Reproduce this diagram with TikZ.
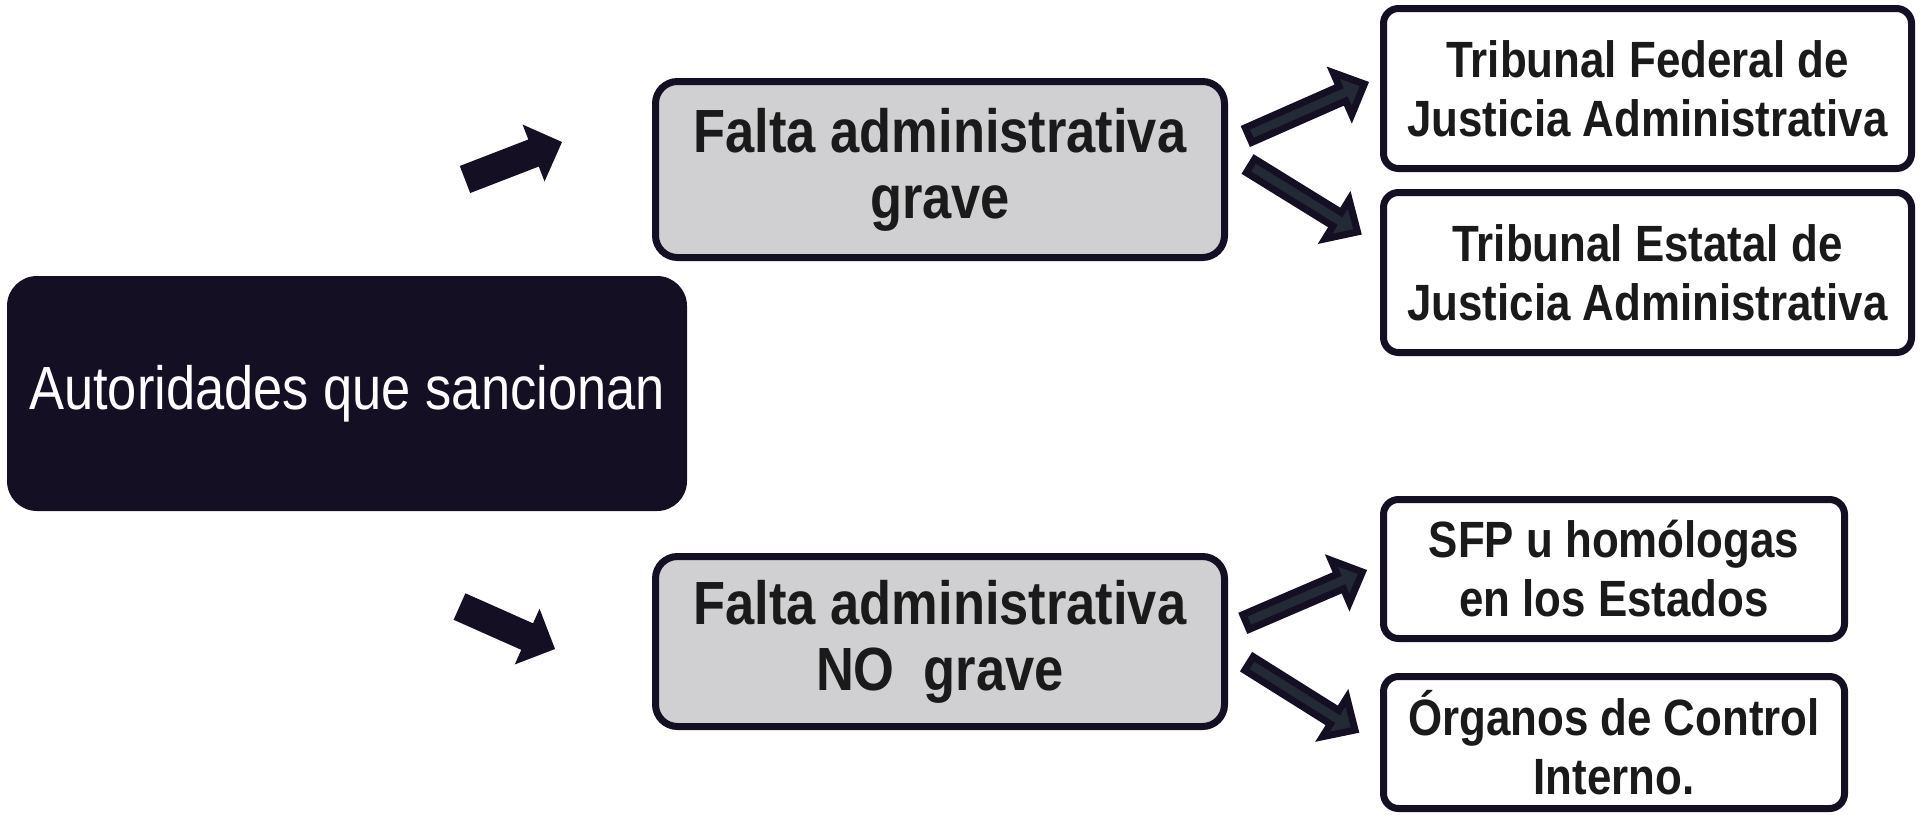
\documentclass[tikz,border=0pt]{standalone}
\usepackage{fontspec}
\setmainfont[FakeStretch=0.86]{Liberation Sans}
\usetikzlibrary{calc}
\definecolor{ink}{HTML}{150F24}
\definecolor{boxgray}{HTML}{D0CFD1}
\definecolor{slate}{HTML}{232A35}
\definecolor{txt}{HTML}{1A1A1A}
\tikzset{
  authbox/.style={fill=ink, rounded corners=30pt, minimum width=680pt, minimum height=235pt,
    inner sep=0pt, text=white, font=\fontsize{61}{66}\selectfont},
  graybox/.style={draw=ink, line width=7pt, fill=boxgray, rounded corners=22pt,
    minimum width=569pt, inner sep=0pt, align=center, text=txt,
    font=\fontsize{61}{66}\selectfont\bfseries},
  whitebox/.style={draw=ink, line width=7pt, fill=white, rounded corners=15pt,
    inner sep=0pt, align=center, text=txt,
    font=\fontsize{51}{59}\selectfont\bfseries},
  solidarrow/.style={fill=ink},
  outlinearrow/.style={fill=slate, draw=ink, line width=7pt},
}
% #1 style, #2 tail, #3 tip, #4 shaft half width, #5 head half width, #6 head length
\newcommand\blockarr[6]{%
  \path ($(#3)!#6!(#2)$) coordinate (bB);
  \path[#1] ($(#2)!#4!90:(#3)$) -- ($(bB)!#4!90:(#3)$) -- ($(bB)!#5!90:(#3)$)
    -- (#3) -- ($(bB)!#5!-90:(#3)$) -- ($(bB)!#4!-90:(#3)$)
    -- ($(#2)!#4!-90:(#3)$) -- cycle;
}
\begin{document}
\begin{tikzpicture}[x=1pt, y=-1pt]
\useasboundingbox (0,0) rectangle (1921,814);

\node[authbox] (auth) at (347,393.5) {Autoridades que sancionan};

\node[graybox, minimum height=176pt] (g1) at (940,169.5) {Falta administrativa\\grave};
\node[graybox, minimum height=170pt] (g2) at (940,641.5) {Falta administrativa\\NO\ \ grave};

\node[whitebox, minimum width=528pt, minimum height=160pt] (tf) at (1647.5,88.5)
  {Tribunal Federal de\\Justicia Administrativa};
\node[whitebox, minimum width=528pt, minimum height=160pt] (te) at (1647.5,272.5)
  {Tribunal Estatal de\\Justicia Administrativa};
\node[whitebox, minimum width=461pt, minimum height=139pt] (sfp) at (1614,569)
  {SFP u homólogas\\en los Estados};
\node[whitebox, minimum width=461pt, minimum height=132pt] (oci) at (1614,742.5)
  {Órganos de Control\\Interno.};

% left arrows
\coordinate (a1s) at (465,179.5);
\coordinate (a1e) at (562,142);
\coordinate (a2s) at (459.5,606.5);
\coordinate (a2e) at (555,649);
\blockarr{solidarrow}{a1s}{a1e}{14.5pt}{30.5pt}{30.5pt}
\blockarr{solidarrow}{a2s}{a2e}{14.5pt}{30.5pt}{30.5pt}

% right arrows
\coordinate (b1s) at (1248.5,135.1);
\coordinate (b1e) at (1364.4,84);
\coordinate (b2s) at (1250.5,165.8);
\coordinate (b2e) at (1357.5,231.9);
\coordinate (b3s) at (1246,622);
\coordinate (b3e) at (1362.4,572);
\coordinate (b4s) at (1249,663.5);
\coordinate (b4e) at (1355,730);
\blockarr{outlinearrow}{b1s}{b1e}{8pt}{23pt}{24pt}
\blockarr{outlinearrow}{b2s}{b2e}{8pt}{23pt}{24pt}
\blockarr{outlinearrow}{b3s}{b3e}{8pt}{23pt}{24pt}
\blockarr{outlinearrow}{b4s}{b4e}{8pt}{23pt}{24pt}
\end{tikzpicture}
\end{document}
